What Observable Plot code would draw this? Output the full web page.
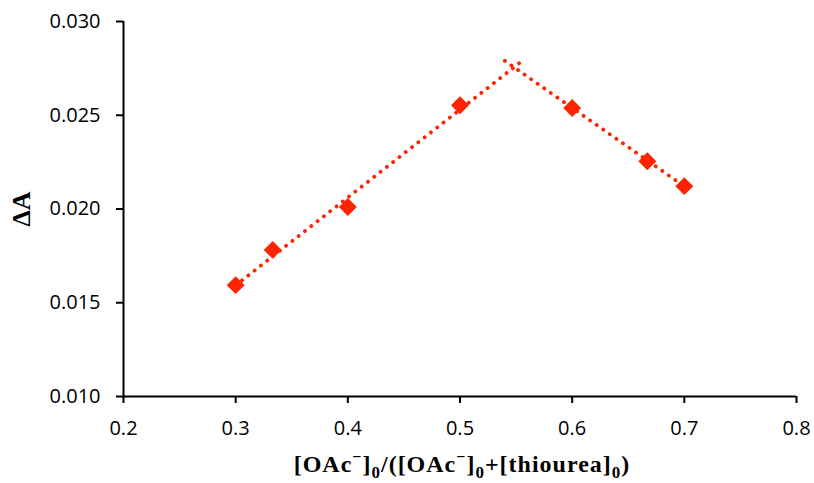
<!DOCTYPE html>
<html>
<head>
<meta charset="utf-8">
<script src="https://cdn.jsdelivr.net/npm/d3@7"></script>
<script src="https://cdn.jsdelivr.net/npm/@observablehq/plot@0.6"></script>
<style>
  html, body { margin: 0; padding: 0; background: #fff; }
  #chart svg { display: block; }
</style>
</head>
<body>
<div id="chart"></div>
<script>
// ---- data ----
const ratio  = [0.3, 0.333, 0.4, 0.5, 0.6, 0.667, 0.7];
const deltaA = [0.01594, 0.01782, 0.02011, 0.02553, 0.02539, 0.02255, 0.02122];

// dotted trend lines (end points)
const leftTrendX  = [0.3, 0.558];
const leftTrendY  = [0.01593, 0.02802];
const rightTrendX = [0.54, 0.7];
const rightTrendY = [0.02790, 0.02121];

// axis ticks and labels
const xTicks = [0.2, 0.3, 0.4, 0.5, 0.6, 0.7, 0.8];
const yTicks = [0.010, 0.015, 0.020, 0.025, 0.030];
const yLabel = "ΔA";
const xLabelParts = [
  ["[OAc", ""], ["−", "sup"], ["]", ""], ["0", "sub"],
  ["/([OAc", ""], ["−", "sup"], ["]", ""], ["0", "sub"],
  ["+[thiourea]", ""], ["0", "sub"], [")", ""]
];

// ---- build ----
const points = ratio.map((x, i) => ({x, y: deltaA[i]}));
const leftTrend = leftTrendX.map((x, i) => ({x, y: leftTrendY[i]}));
const rightTrend = rightTrendX.map((x, i) => ({x, y: rightTrendY[i]}));

const red = "#ff2400";
const tickFont = "'Open Sans', 'Liberation Sans', sans-serif";
const titleFont = "'Liberation Serif', 'Times New Roman', serif";

const chart = Plot.plot({
  width: 814,
  height: 483,
  marginTop: 21,
  marginRight: 18,
  marginBottom: 87,
  marginLeft: 123,
  style: {fontFamily: tickFont, fontSize: "20px", color: "#000", background: "#fff"},
  x: {domain: [0.2, 0.8]},
  y: {domain: [0.010, 0.030]},
  marks: [
    Plot.axisX({ticks: xTicks, tickFormat: d3.format(".1f"), tickSize: 7, tickPadding: 17, strokeWidth: 2, label: null}),
    Plot.axisY({ticks: yTicks, tickFormat: d3.format(".3f"), tickSize: 7, tickPadding: 16, strokeWidth: 2, label: null}),
    Plot.ruleX([0.2], {stroke: "#000", strokeWidth: 2}),
    Plot.ruleY([0.010], {stroke: "#000", strokeWidth: 2}),
    Plot.dot(points, {x: "x", y: "y", symbol: "diamond2", r: 8.1, fill: red, stroke: null}),
    Plot.line(leftTrend, {x: "x", y: "y", stroke: red, strokeWidth: 3.8, strokeDasharray: "0.1 7.9", strokeLinecap: "round"}),
    Plot.line(rightTrend, {x: "x", y: "y", stroke: red, strokeWidth: 3.8, strokeDasharray: "0.1 7.9", strokeLinecap: "round"}),
    Plot.text([yLabel], {frameAnchor: "left", dx: -102, rotate: -90, textAnchor: "middle", lineAnchor: "middle",
      fontFamily: titleFont, fontWeight: "bold", fontSize: 26, fill: "#000"})
  ]
});

document.getElementById("chart").appendChild(chart);

// x-axis title with superscripts / subscripts
const svg = d3.select(chart);
const t = svg.append("text")
  .attr("x", 462)
  .attr("y", 472)
  .attr("text-anchor", "middle")
  .attr("font-family", titleFont)
  .attr("font-weight", "bold")
  .attr("font-size", 24)
  .attr("letter-spacing", "1px")
  .attr("fill", "#000");
let shift = 0;
for (const [txt, kind] of xLabelParts) {
  const target = kind === "sup" ? -10 : kind === "sub" ? 6 : 0;
  t.append("tspan")
    .attr("dy", target - shift)
    .attr("font-size", kind === "" ? 24 : kind === "sup" ? 16 : 17)
    .text(txt);
  shift = target;
}
</script>
</body>
</html>
